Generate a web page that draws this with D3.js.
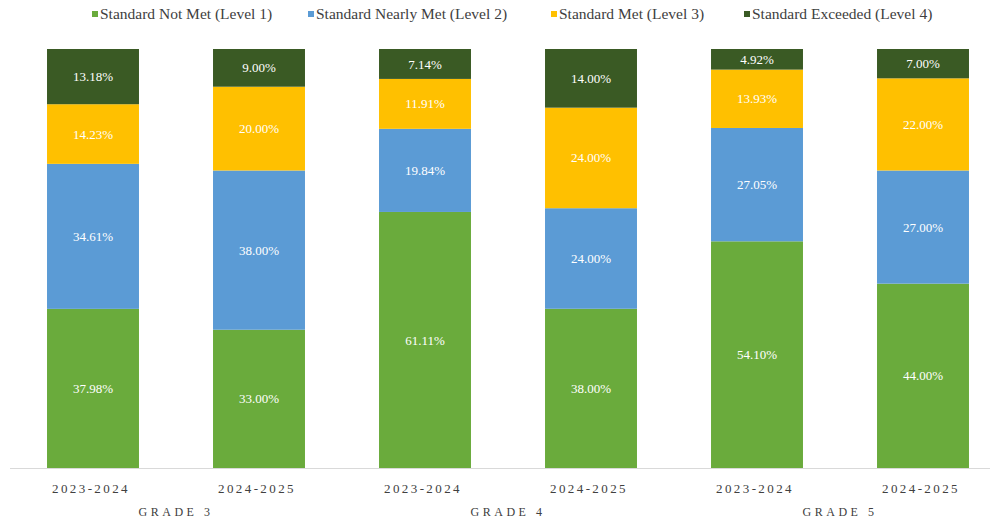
<!DOCTYPE html>
<html>
<head>
<meta charset="utf-8">
<script src="https://cdn.jsdelivr.net/npm/d3@7"></script>
<style>
  html, body { margin: 0; padding: 0; background: #ffffff; }
  svg { display: block; font-family: "Liberation Serif", "Times New Roman", serif; }
</style>
</head>
<body>
<svg id="chart" width="998" height="524"></svg>
<script>
// ---- data ----
const years = ["2023-2024", "2024-2025", "2023-2024", "2024-2025", "2023-2024", "2024-2025"];
const grades = ["GRADE 3", "GRADE 4", "GRADE 5"];
const seriesNames = ["Standard Not Met (Level 1)", "Standard Nearly Met (Level 2)", "Standard Met (Level 3)", "Standard Exceeded (Level 4)"];
const level1 = [37.98, 33.00, 61.11, 38.00, 54.10, 44.00];
const level2 = [34.61, 38.00, 19.84, 24.00, 27.05, 27.00];
const level3 = [14.23, 20.00, 11.91, 24.00, 13.93, 22.00];
const level4 = [13.18, 9.00, 7.14, 14.00, 4.92, 7.00];
const colors = ["#6aab3c", "#5b9bd5", "#ffc000", "#3a5a24"];

const svg = d3.select("#chart");
const ids = d3.range(years.length);
const x = d3.scaleBand().domain(ids).range([10, 1006]).paddingInner(0.446).paddingOuter(0.223);
const y = d3.scaleLinear().domain([0, 100]).range([468, 49]);

const seriesVals = [level1, level2, level3, level4];
const rows = ids.map(i => ({ i, l1: level1[i], l2: level2[i], l3: level3[i], l4: level4[i] }));
const stack = d3.stack().keys(["l1", "l2", "l3", "l4"]);
const stacked = stack(rows);

// axis line
svg.append("line").attr("x1", 10).attr("x2", 990).attr("y1", y(0) + 0.5).attr("y2", y(0) + 0.5)
  .attr("stroke", "#d9d9d9").attr("stroke-width", 1);

const g = svg.append("g");
stacked.forEach((layer, k) => {
  g.selectAll(null).data(layer).enter().append("rect")
    .attr("x", d => x(d.data.i))
    .attr("width", x.bandwidth())
    .attr("y", d => y(d[1]))
    .attr("height", d => y(d[0]) - y(d[1]))
    .attr("fill", colors[k]);
  g.selectAll(null).data(layer).enter().append("text")
    .attr("x", d => x(d.data.i) + x.bandwidth() / 2)
    .attr("y", d => (y(d[0]) + y(d[1])) / 2)
    .attr("dy", "0.35em")
    .attr("text-anchor", "middle")
    .attr("font-size", 13)
    .attr("fill", "#ffffff")
    .text(d => seriesVals[k][d.data.i].toFixed(2) + "%");
});

// category labels
svg.selectAll(".yr").data(ids).enter().append("text")
  .attr("x", i => x(i) + x.bandwidth() / 2 - 2)
  .attr("y", 493)
  .attr("text-anchor", "middle")
  .attr("font-size", 13)
  .attr("letter-spacing", "2.4px")
  .attr("fill", "#404040")
  .text(i => years[i]);

svg.selectAll(".gr").data(grades).enter().append("text")
  .attr("x", (d, j) => (x(2 * j) + x(2 * j + 1) + x.bandwidth()) / 2)
  .attr("y", 516)
  .attr("text-anchor", "middle")
  .attr("font-size", 12)
  .attr("letter-spacing", "3.5px")
  .attr("fill", "#404040")
  .text(d => d);

// legend
const legendX = [92, 308, 551, 744];
const lg = svg.append("g");
seriesNames.forEach((name, k) => {
  lg.append("rect").attr("x", legendX[k]).attr("y", 11).attr("width", 6).attr("height", 6).attr("fill", colors[k]);
  lg.append("text").attr("x", legendX[k] + 8).attr("y", 14).attr("dy", "0.35em")
    .attr("font-size", 15.5).attr("fill", "#404040").text(name);
});
</script>
</body>
</html>
